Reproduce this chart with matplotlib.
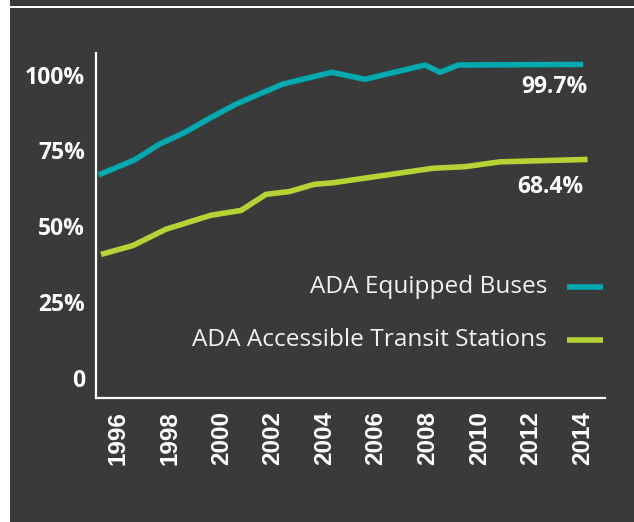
import matplotlib
matplotlib.use("Agg")
import matplotlib.pyplot as plt
from matplotlib.patches import Rectangle
from matplotlib.lines import Line2D
from matplotlib.transforms import ScaledTranslation, blended_transform_factory

# ---- data -------------------------------------------------------------
bus_years = [1995.25, 1996.63, 1997.60, 1998.57, 1999.54, 2000.57, 2002.38,
             2003.41, 2004.29, 2005.57, 2007.90, 2008.48, 2009.19, 2014.03]
bus_pct = [63.3, 68.2, 73.4, 77.2, 81.9, 86.6, 93.2,
           95.3, 97.1, 94.8, 99.5, 97.1, 99.5, 99.7]

station_years = [1995.34, 1996.57, 1997.86, 1999.60, 2000.77, 2001.74, 2002.64,
                 2003.61, 2004.33, 2008.22, 2009.45, 2010.81, 2014.20]
station_pct = [37.1, 40.0, 45.4, 50.0, 51.6, 56.9, 57.8,
               60.2, 60.7, 65.5, 66.0, 67.6, 68.4]

series_labels = ["ADA Equipped Buses", "ADA Accessible Transit Stations"]
end_labels = ["99.7%", "68.4%"]

x_ticks = list(range(1996, 2015, 2))
x_tick_labels = [str(y) for y in x_ticks]
y_ticks = [0, 25, 50, 75, 100]
y_tick_labels = ["0", "25%", "50%", "75%", "100%"]

# ---- style ------------------------------------------------------------
W, H, DPI = 634, 522, 100
BG = "#3a3a3a"
TEAL = "#00a9ae"
LIME = "#b5d334"
FG = "#ffffff"
SANS = ["Open Sans", "DejaVu Sans"]

fig = plt.figure(figsize=(W / DPI, H / DPI), dpi=DPI, facecolor="white")

# dark panel with a thin white rule near the top (behind the axes)
fig.patches.append(Rectangle((10 / W, 0), (W - 10) / W, 1, transform=fig.transFigure,
                             facecolor=BG, edgecolor="none", zorder=-3))
fig.patches.append(Rectangle((9 / W, 1 - 8 / H), 1, 2 / H, transform=fig.transFigure,
                             facecolor="white", edgecolor="none", zorder=-2))

ax = fig.add_axes([96 / W, (H - 398) / H, (605 - 96) / W, (398 - 53) / H])
ax.patch.set_visible(False)

ax.plot(bus_years, bus_pct, color=TEAL, lw=4, solid_capstyle="butt",
        solid_joinstyle="round", zorder=3)
ax.plot(station_years, station_pct, color=LIME, lw=4, solid_capstyle="butt",
        solid_joinstyle="round", zorder=3)

ax.set_xlim(1995.147, 2014.876)
ax.set_ylim(-10.21, 103.46)

for side in ("top", "right"):
    ax.spines[side].set_visible(False)
for side in ("left", "bottom"):
    ax.spines[side].set_color(FG)
    ax.spines[side].set_linewidth(1.6)

ax.set_xticks(x_ticks, x_tick_labels, rotation=90)
ax.tick_params(axis="x", length=0, pad=9.5, labelcolor=FG)
for lab in ax.get_xticklabels():
    lab.set_fontfamily(["Liberation Sans", "DejaVu Sans"])
    lab.set_fontweight("bold")
    lab.set_fontsize(17.5)

# y labels sit just below their gridline values
ax.set_yticks([])
ytrans = blended_transform_factory(ax.transAxes, ax.transData) + \
    ScaledTranslation(-11 / DPI, -14 / DPI, fig.dpi_scale_trans)
for v, lab in zip(y_ticks, y_tick_labels):
    ax.text(0, v, lab, transform=ytrans, ha="right", va="center",
            fontsize=16.5, fontweight="bold", family=SANS, color=FG)

# end-of-line value labels
ax.annotate(end_labels[0], xy=(bus_years[-1], bus_pct[-1]), xytext=(4, -23),
            textcoords="offset pixels", ha="right", va="center",
            fontsize=16.5, fontweight="bold", family=SANS, color=FG)
ax.annotate(end_labels[1], xy=(station_years[-1], station_pct[-1]), xytext=(-4, -28),
            textcoords="offset pixels", ha="right", va="center",
            fontsize=16.5, fontweight="bold", family=SANS, color=FG)

# key, text right-aligned with swatches on the right
for label, color, ypx in zip(series_labels, [TEAL, LIME], [287, 340]):
    fig.text(547 / W, 1 - ypx / H, label, ha="right", va="center",
             fontsize=17.6, family=SANS, color="#f2f2f2")
    fig.add_artist(Line2D([567 / W, 603 / W], [1 - ypx / H] * 2,
                          transform=fig.transFigure, color=color, lw=4,
                          solid_capstyle="butt"))

fig.savefig("out.png", dpi=DPI, facecolor=fig.get_facecolor())
